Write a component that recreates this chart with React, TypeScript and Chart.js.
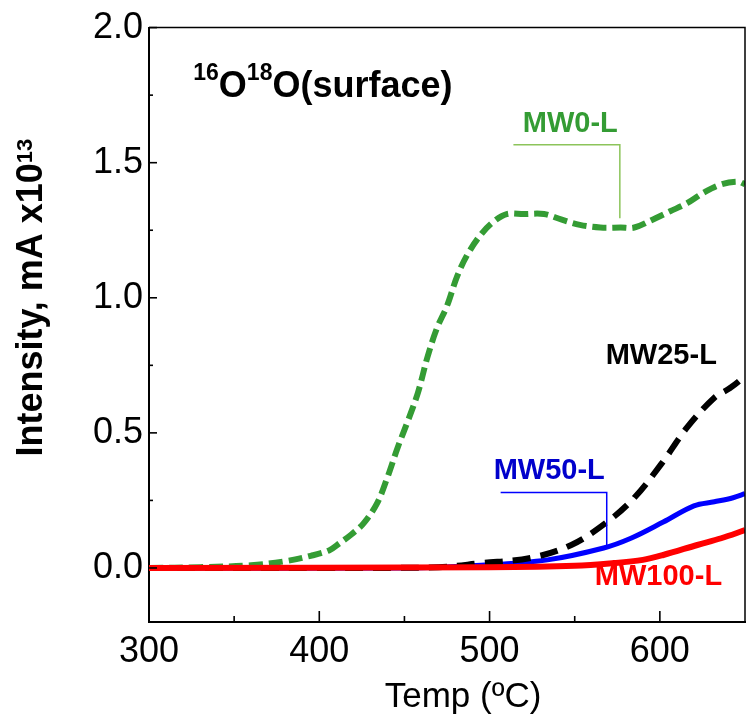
import { useEffect, useRef } from 'react';
import { Chart, registerables } from 'chart.js';

Chart.register(...registerables);

const FONT = "'Liberation Sans', Arial, Helvetica, sans-serif";

// Axis ticks
const xTicks = [300, 400, 500, 600];
const xMinorTicks = [350, 450, 550];
const yTicks = [0, 0.5, 1.0, 1.5, 2.0];
const yMinorTicks = [0.25, 0.75, 1.25, 1.75];

// MW0-L
const mw0Temp = [300, 330, 360, 380, 395, 406, 412, 419, 426, 434, 440, 446, 452, 458, 463.5, 469, 475, 481, 487, 495, 502, 510, 520, 532, 542, 553, 565, 577, 585, 596, 606, 616, 626, 636, 646, 650];
const mw0Val = [0, 0.003, 0.01, 0.025, 0.045, 0.066, 0.092, 0.125, 0.165, 0.24, 0.335, 0.445, 0.544, 0.65, 0.78, 0.886, 0.97, 1.08, 1.16, 1.235, 1.28, 1.31, 1.31, 1.31, 1.29, 1.27, 1.26, 1.26, 1.26, 1.29, 1.32, 1.35, 1.39, 1.42, 1.43, 1.42];

// MW25-L
const mw25Temp = [300, 400, 470, 495, 524, 548, 569, 585, 601, 616, 632, 641, 648, 650];
const mw25Val = [0, 0, 0.003, 0.018, 0.037, 0.085, 0.17, 0.26, 0.386, 0.52, 0.63, 0.665, 0.7, 0.72];

// MW50-L
const mw50Temp = [300, 450, 495, 534, 567, 583, 602, 620, 632, 643, 650];
const mw50Val = [0, 0, 0.01, 0.03, 0.074, 0.11, 0.17, 0.23, 0.245, 0.26, 0.275];

// MW100-L
const mw100Temp = [300, 500, 550, 573, 590, 602, 622, 636, 650];
const mw100Val = [0, 0.003, 0.008, 0.018, 0.03, 0.048, 0.085, 0.11, 0.14];

const seriesNames = ['MW0-L', 'MW25-L', 'MW50-L', 'MW100-L'];

const GREEN = '#349c34';
const BLUE = '#0000ff';
const RED = '#ff0000';

const toPoints = (t: number[], v: number[]) => t.map((x, i) => ({ x, y: v[i] }));

// Series name tags, anchored in data units (left edge, vertical middle)
const tags = [
  { text: seriesNames[0], color: GREEN, at: [519.5, 1.643] },
  { text: seriesNames[1], color: '#000000', at: [568.2, 0.783] },
  { text: seriesNames[2], color: '#0000cc', at: [502.4, 0.36] },
  { text: seriesNames[3], color: RED, at: [561.8, -0.033] },
];

// Leader lines from tags to curves
const leaders = [
  { color: '#8cc45a', pts: [[514, 1.566], [576.5, 1.566], [576.5, 1.294]] },
  { color: BLUE, pts: [[506.5, 0.279], [568.8, 0.279], [568.8, 0.085]] },
];

const decor = {
  id: 'decor',
  afterDraw(chart: any) {
    const { ctx, chartArea: a, scales } = chart;
    const x = scales.x;
    const y = scales.y;
    ctx.save();

    // frame top and right
    ctx.strokeStyle = '#000';
    ctx.lineWidth = 1.5;
    ctx.beginPath();
    ctx.moveTo(a.left, a.top);
    ctx.lineTo(a.right, a.top);
    ctx.lineTo(a.right, a.bottom);
    ctx.stroke();

    // inward tick marks
    const seg = (x1: number, y1: number, x2: number, y2: number) => {
      ctx.beginPath();
      ctx.moveTo(x1, y1);
      ctx.lineTo(x2, y2);
      ctx.stroke();
    };
    ctx.lineWidth = 1.6;
    xTicks.forEach((t) => { const p = x.getPixelForValue(t); seg(p, a.bottom, p, a.bottom - 11); });
    xMinorTicks.forEach((t) => { const p = x.getPixelForValue(t); seg(p, a.bottom, p, a.bottom - 6); });
    yTicks.forEach((v) => { const p = y.getPixelForValue(v); seg(a.left, p, a.left + 8, p); });
    yMinorTicks.forEach((v) => { const p = y.getPixelForValue(v); seg(a.left, p, a.left + 4, p); });

    // leader lines
    ctx.lineWidth = 1.5;
    leaders.forEach((l) => {
      ctx.strokeStyle = l.color;
      ctx.beginPath();
      l.pts.forEach(([t, v], i) => {
        const px = x.getPixelForValue(t);
        const py = y.getPixelForValue(v);
        if (i === 0) ctx.moveTo(px, py); else ctx.lineTo(px, py);
      });
      ctx.stroke();
    });

    // series tags
    ctx.font = `bold 29px ${FONT}`;
    ctx.textAlign = 'left';
    ctx.textBaseline = 'middle';
    tags.forEach((tg) => {
      ctx.fillStyle = tg.color;
      ctx.fillText(tg.text, x.getPixelForValue(tg.at[0]), y.getPixelForValue(tg.at[1]));
    });

    // rich text helper: parts of [text, isSup]
    const rich = (parts: [string, boolean][], mainFont: string, supFont: string, rise: number) => {
      let cx = 0;
      parts.forEach(([s, sup]) => {
        ctx.font = sup ? supFont : mainFont;
        ctx.fillText(s, cx, sup ? -rise : 0);
        cx += ctx.measureText(s).width;
      });
    };

    ctx.textBaseline = 'alphabetic';
    ctx.fillStyle = '#000';

    // panel title
    ctx.save();
    ctx.translate(x.getPixelForValue(326), y.getPixelForValue(1.743));
    rich([['16', true], ['O', false], ['18', true], ['O(surface)', false]], `bold 36px ${FONT}`, `bold 23px ${FONT}`, 17);
    ctx.restore();

    // y axis title
    ctx.save();
    ctx.translate(a.left - 107, a.top + 429);
    ctx.rotate(-Math.PI / 2);
    rich([['Intensity, mA x10', false], ['13', true]], `bold 36px ${FONT}`, `bold 22px ${FONT}`, 10);
    ctx.restore();

    // x axis title
    ctx.font = `35px ${FONT}`;
    ctx.textAlign = 'center';
    ctx.fillText('Temp (\u00baC)', a.left + 314, a.bottom + 85);

    ctx.restore();
  },
};

export default function App() {
  const ref = useRef<HTMLCanvasElement | null>(null);

  useEffect(() => {
    if (!ref.current) return;
    const base = { pointRadius: 0, fill: false, tension: 0.35 };
    const chart = new Chart(ref.current, {
      type: 'line',
      data: {
        datasets: [
          { ...base, label: seriesNames[3], data: toPoints(mw100Temp, mw100Val), borderColor: RED, borderWidth: 6 },
          { ...base, label: seriesNames[1], data: toPoints(mw25Temp, mw25Val), borderColor: '#000', borderWidth: 6, borderDash: [18, 10] },
          { ...base, label: seriesNames[2], data: toPoints(mw50Temp, mw50Val), borderColor: BLUE, borderWidth: 5 },
          { ...base, label: seriesNames[0], data: toPoints(mw0Temp, mw0Val), borderColor: GREEN, borderWidth: 6, borderDash: [14, 6] },
        ],
      },
      options: {
        responsive: false,
        animation: false,
        devicePixelRatio: 1,
        layout: { padding: { top: 24, right: 1, left: 0, bottom: 0 } },
        plugins: { legend: { display: false }, tooltip: { enabled: false } },
        scales: {
          x: {
            type: 'linear',
            min: 300,
            max: 650,
            afterBuildTicks: (s: any) => { s.ticks = xTicks.map((value) => ({ value })); },
            afterFit: (s: any) => { s.height = 97; },
            grid: { display: false, drawTicks: false },
            border: { display: true, color: '#000', width: 2 },
            ticks: {
              color: '#000',
              font: { family: FONT, size: 36 },
              padding: 8,
              maxRotation: 0,
              autoSkip: false,
              callback: (v: any) => String(v),
            },
          },
          y: {
            type: 'linear',
            min: -0.2,
            max: 2.0,
            afterBuildTicks: (s: any) => { s.ticks = yTicks.map((value) => ({ value })); },
            afterFit: (s: any) => { s.width = 149; },
            grid: { display: false, drawTicks: false },
            border: { display: true, color: '#000', width: 2 },
            ticks: {
              color: '#000',
              font: { family: FONT, size: 36 },
              padding: 6,
              autoSkip: false,
              callback: (v: any) => Number(v).toFixed(1),
            },
          },
        },
      },
      plugins: [decor],
    });
    return () => chart.destroy();
  }, []);

  return (
    <div style={{ position: 'absolute', left: 0, top: 0, width: 746, height: 719, background: '#fff' }}>
      <canvas ref={ref} width={746} height={719} style={{ width: 746, height: 719, display: 'block' }} />
    </div>
  );
}
